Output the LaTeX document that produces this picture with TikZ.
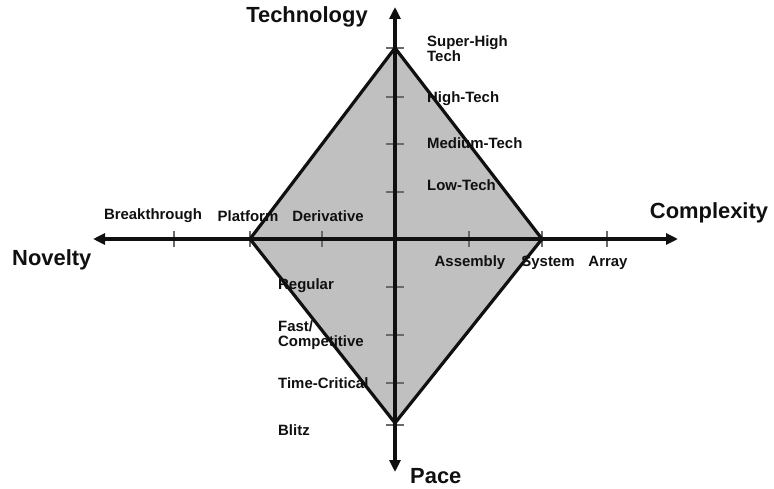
\documentclass[tikz,border=0pt]{standalone}
\usepackage{fontspec}
\setmainfont{Liberation Sans}
\usetikzlibrary{arrows.meta}
\definecolor{ink}{HTML}{101010}
\definecolor{diamondgray}{HTML}{C0C0C0}
\definecolor{tickgray}{HTML}{6A6A6A}

\begin{document}
\begin{tikzpicture}[x=1bp,y=-1bp,>={Triangle[length=12bp,width=11bp]},
  every node/.style={font=\bfseries\fontsize{15}{15}\selectfont,inner sep=0pt,text=ink},
  axislabel/.style={font=\bfseries\fontsize{22}{22}\selectfont},
  axisline/.style={draw=ink,line width=3.5bp,<->},
  edge/.style={draw=ink,line width=3.2bp,line join=miter},
  tickmark/.style={draw=tickgray,line width=1.3bp}]
  \useasboundingbox (0,0) rectangle (774,489);
  \coordinate (north) at (395,7);   \coordinate (south) at (395,472);
  \coordinate (west) at (93,239);   \coordinate (east) at (678,239);
  \coordinate (tech) at (395,48);   \coordinate (cplx) at (542,239);
  \coordinate (pace) at (395,423);  \coordinate (nov) at (250,239);
  \fill[diamondgray] (tech) -- (cplx) -- (pace) -- (nov) -- cycle;
  \foreach \y in {48,97,144,192,287,335,383,425} {\draw[tickmark] (386,\y) -- (404,\y);}
  \foreach \x in {174,250,322,469,542,607} {\draw[tickmark] (\x,231) -- (\x,247);}
  \node[axislabel] (technology) at (307,17) {Technology};
  \node[axislabel] (complexity) at (709,213) {Complexity};
  \node[axislabel,anchor=west] (novelty) at (12,260) {Novelty};
  \node[axislabel,anchor=west] (pacelabel) at (410,476) {Pace};
  \node[anchor=west,align=left] (superhigh) at (427,49) {Super-High\\Tech};
  \node[anchor=west] (hightech) at (427,99) {High-Tech};
  \node[anchor=west] (mediumtech) at (427,143) {Medium-Tech};
  \node[anchor=west] (lowtech) at (427,185) {Low-Tech};
  \node (breakthrough) at (153,216) {Breakthrough};
  \node (platform) at (248,216) {Platform};
  \node (derivative) at (328,216) {Derivative};
  \node (assembly) at (470,263) {Assembly};
  \node (system) at (548,263) {System};
  \node (array) at (608,263) {Array};
  \node[anchor=west] (regular) at (278,286) {Regular};
  \node[anchor=west,align=left] (fast) at (278,335) {Fast/\\Competitive};
  \node[anchor=west] (timecritical) at (278,383) {Time-Critical};
  \node[anchor=west] (blitz) at (278,430) {Blitz};
  \draw[axisline] (west) -- (east);
  \draw[axisline] (north) -- (south);
  \draw[edge] (tech) -- (cplx) -- (pace) -- (nov) -- cycle;
\end{tikzpicture}
\end{document}
